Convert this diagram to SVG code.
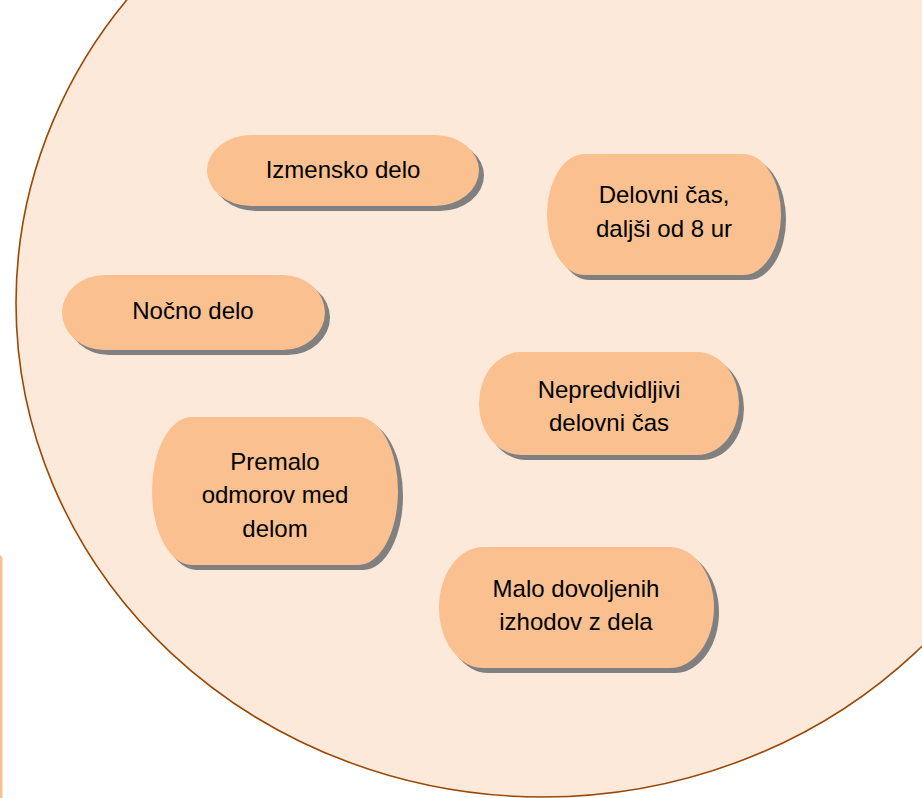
<svg xmlns="http://www.w3.org/2000/svg" width="922" height="798" viewBox="0 0 922 798">
<style>
.bg{fill:#FDE9D9;stroke:#984807;stroke-width:1.6}
.sh{fill:#808080}
.nd{fill:#FAC090}
.tx{font-family:"Liberation Sans",Arial,sans-serif;font-size:24px;fill:#000;text-anchor:middle}
</style>
<rect x="-10" y="555" width="12.5" height="260" rx="4" fill="#FAC090"/>
<ellipse class="bg" cx="543" cy="303" rx="527" ry="494"/>
<g id="connectors"/>
<g id="n1">
<rect class="sh" x="212" y="140" width="272" height="71" rx="43.8" ry="35.5"/>
<rect class="nd" x="207" y="135" width="272" height="71" rx="43.8" ry="35.5"/>
<text class="tx" x="343" y="178">Izmensko delo</text>
</g>
<g id="n2">
<rect class="sh" x="552" y="159" width="234" height="121" rx="37.7" ry="60.5"/>
<rect class="nd" x="547" y="154" width="234" height="121" rx="37.7" ry="60.5"/>
<text class="tx" x="664" y="203">Delovni čas,</text>
<text class="tx" x="664" y="237">daljši od 8 ur</text>
</g>
<g id="n3">
<rect class="sh" x="67" y="280" width="263" height="75" rx="42.3" ry="37.5"/>
<rect class="nd" x="62" y="275" width="263" height="75" rx="42.3" ry="37.5"/>
<text class="tx" x="193" y="319">Nočno delo</text>
</g>
<g id="n4">
<rect class="sh" x="484" y="357" width="260" height="103" rx="41.8" ry="51.5"/>
<rect class="nd" x="479" y="352" width="260" height="103" rx="41.8" ry="51.5"/>
<text class="tx" x="609" y="398">Nepredvidljivi</text>
<text class="tx" x="609" y="431">delovni čas</text>
</g>
<g id="n5">
<rect class="sh" x="157" y="422" width="246" height="148" rx="39.6" ry="74"/>
<rect class="nd" x="152" y="417" width="246" height="148" rx="39.6" ry="74"/>
<text class="tx" x="275" y="470">Premalo</text>
<text class="tx" x="275" y="503">odmorov med</text>
<text class="tx" x="275" y="537">delom</text>
</g>
<g id="n6">
<rect class="sh" x="444" y="552" width="275" height="121" rx="44.3" ry="60.5"/>
<rect class="nd" x="439" y="547" width="275" height="121" rx="44.3" ry="60.5"/>
<text class="tx" x="576" y="597">Malo dovoljenih</text>
<text class="tx" x="576" y="630">izhodov z dela</text>
</g>
</svg>
